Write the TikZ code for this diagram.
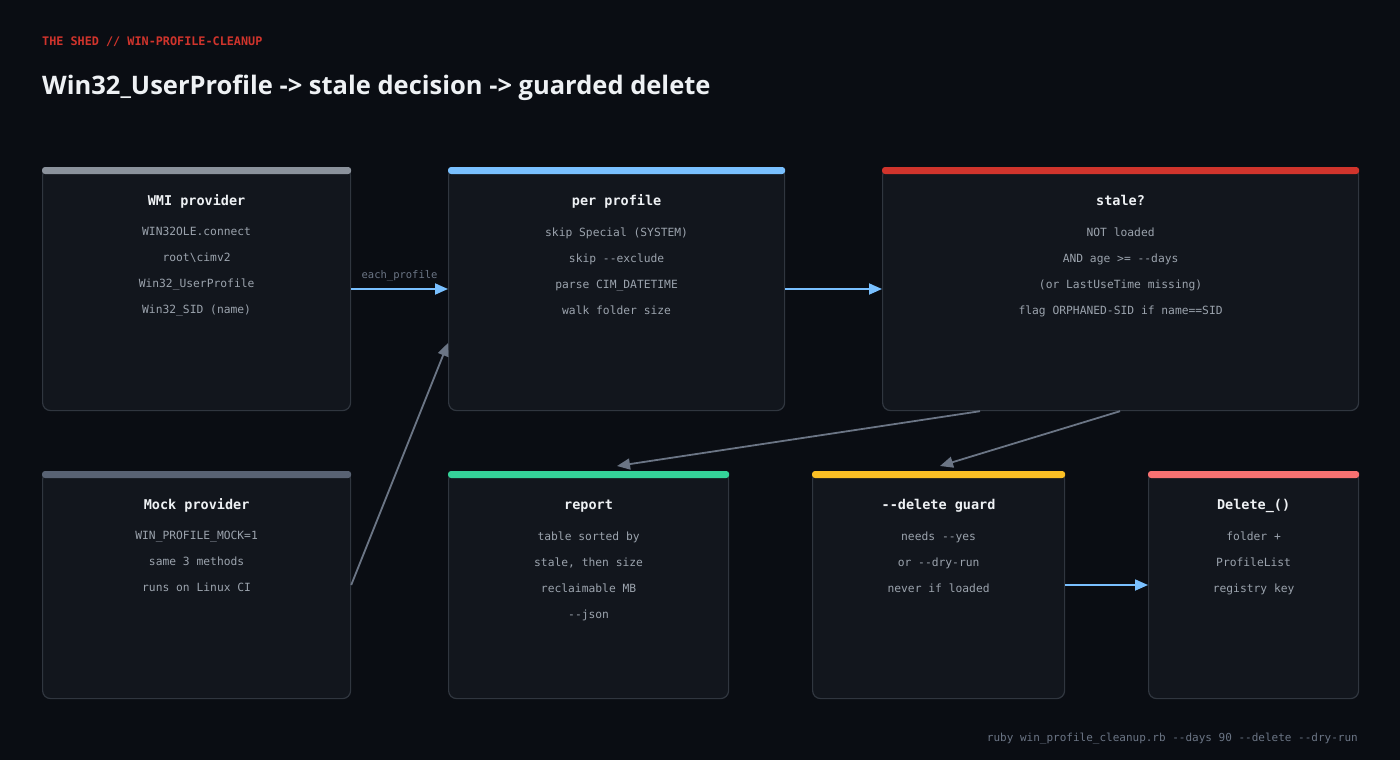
\documentclass[tikz,border=0pt]{standalone}
\usepackage{fontspec}
\setmainfont{Open Sans}
\setmonofont{DejaVu Sans Mono}
\usetikzlibrary{calc,arrows.meta}
\definecolor{bg}{HTML}{0A0D13}
\definecolor{boxf}{HTML}{12161D}
\definecolor{boxd}{HTML}{30363F}
\definecolor{tx}{HTML}{9BA3AD}
\definecolor{hd}{HTML}{EEF1F4}
\definecolor{cblue}{HTML}{79C0FF}
\definecolor{cgray}{HTML}{8B929C}
\definecolor{cslate}{HTML}{586273}
\definecolor{cred}{HTML}{D0342C}
\definecolor{cgreen}{HTML}{34D399}
\definecolor{cyel}{HTML}{FBBF24}
\definecolor{csal}{HTML}{F87171}
\definecolor{acol}{HTML}{6B7585}
\tikzset{
 box/.style={draw=boxd,fill=boxf,rounded corners=8pt,line width=1.2pt,anchor=north west,inner sep=0pt},
 ttl/.style={text=hd,font=\ttfamily\bfseries\fontsize{13.5}{15}\selectfont,anchor=base},
 body/.style={text=tx,font=\ttfamily\fontsize{11.3}{26}\selectfont,align=center,anchor=north},
 blue/.style={draw=cblue,line width=1.8pt,-{Triangle[length=13pt,width=11pt]}},
 gray/.style={draw=acol,line width=1.8pt,-{Triangle[length=13pt,width=11pt]}}
}
\newcommand{\mkbox}[8]{%
 \node[box,minimum width=#3pt,minimum height=#4pt] (#1) at (#2) {};
 \fill[#5,rounded corners=3pt] ($(#1.north west)+(0,0)$) rectangle ($(#1.north east)+(0,7)$);
 \node[ttl] (#1t) at ($(#1.north)+(0,38)$) {#6};
 \node[body] (#1b) at ($(#1.north)+(0,#7)$) {#8};
}
\begin{document}
\begin{tikzpicture}[x=1pt,y=-1pt]
\fill[bg] (0,0) rectangle (1400,760);
\useasboundingbox (0,0) rectangle (1400,760);
\node[anchor=base west,text=cred,font=\ttfamily\bfseries\fontsize{11.8}{12}\selectfont,inner sep=0pt] (hdr) at (42,46) {THE SHED // WIN-PROFILE-CLEANUP};
\node[anchor=base west,text=hd,font=\bfseries\fontsize{25.5}{28}\selectfont,inner sep=0pt] (title) at (42,95) {Win32\_UserProfile -> stale decision -> guarded delete};
\mkbox{wmi}{42,167}{308}{243}{cgray}{WMI provider}{57}{WIN32OLE.connect\\root\textbackslash cimv2\\Win32\_UserProfile\\Win32\_SID (name)}
\mkbox{pp}{448,167}{336}{243}{cblue}{per profile}{57}{skip Special (SYSTEM)\\skip --exclude\\parse CIM\_DATETIME\\walk folder size}
\mkbox{st}{882,167}{476}{243}{cred}{stale?}{57}{NOT loaded\\AND age >= --days\\(or LastUseTime missing)\\flag ORPHANED-SID if name==SID}
\mkbox{mock}{42,471}{308}{227}{cslate}{Mock provider}{57}{WIN\_PROFILE\_MOCK=1\\same 3 methods\\runs on Linux CI}
\mkbox{rep}{448,471}{280}{227}{cgreen}{report}{57}{table sorted by\\stale, then size\\reclaimable MB\\--json}
\mkbox{grd}{812,471}{252}{227}{cyel}{--delete guard}{57}{needs --yes\\or --dry-run\\never if loaded}
\mkbox{del}{1148,471}{210}{227}{csal}{Delete\_()}{57}{folder +\\ProfileList\\registry key}
\draw[blue] ($(wmi.north east)+(0,122)$) -- node[above=4pt,text=acol,font=\ttfamily\fontsize{10.5}{12}\selectfont] (lbl) {each\_profile} ($(pp.north west)+(0,122)$);
\draw[blue] ($(pp.north east)+(0,122)$) -- ($(st.north west)+(0,122)$);
\draw[gray] ($(mock.north east)+(0,114)$) -- ($(pp.north west)+(0,176)$);
\draw[gray] ($(st.south west)+(98,0)$) -- ($(rep.north west)+(169,-5)$);
\draw[gray] ($(st.south west)+(238,0)$) -- ($(grd.north west)+(128,-5)$);
\draw[blue] ($(grd.north east)+(0,114)$) -- ($(del.north west)+(0,114)$);
\node[anchor=base east,text=acol,font=\ttfamily\fontsize{11}{12}\selectfont,inner sep=0pt] (foot) at (1358,741) {ruby win\_profile\_cleanup.rb --days 90 --delete --dry-run};
\end{tikzpicture}
\end{document}
